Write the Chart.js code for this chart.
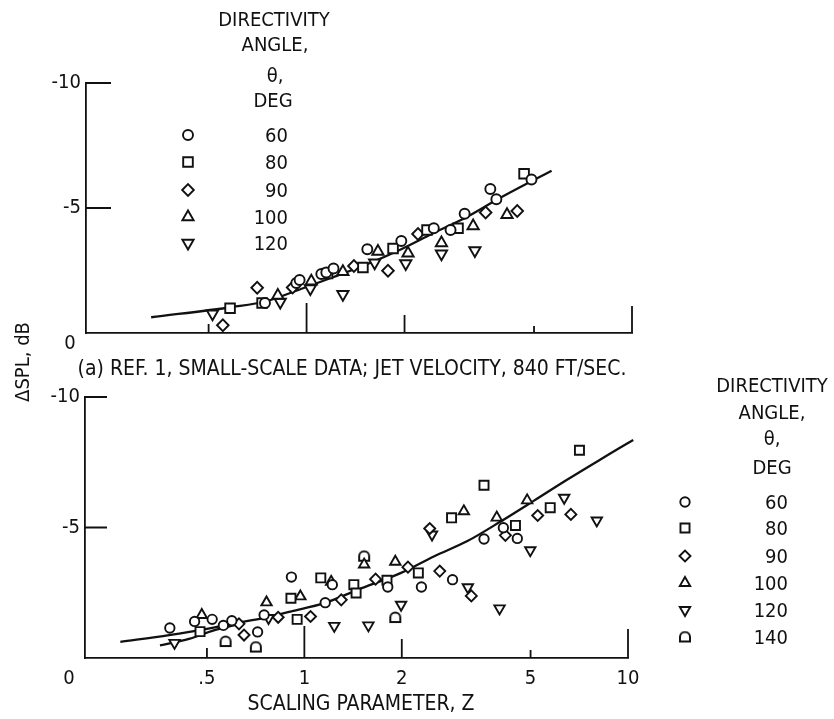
<!DOCTYPE html>
<html>
<head>
<meta charset="utf-8">
<script src="https://cdn.jsdelivr.net/npm/chart.js@4.4.1/dist/chart.umd.min.js"></script>
<style>
  body { margin: 0; background: #fff; }
  #page { position: relative; width: 834px; height: 719px; overflow: hidden;
          font-family: "DejaVu Sans Condensed", "Liberation Sans Narrow", sans-serif; color: #111; }
  canvas { position: absolute; left: 0; }
  .t { position: absolute; white-space: nowrap; line-height: 1; font-size: 20px; transform: translate(-50%, -50%); }
  .r { transform: translate(-100%, -50%); }
  .big { font-size: 21px; }
</style>
</head>
<body>
<div id="page">
  <canvas id="topChart" width="834" height="350" style="top:0"></canvas>
  <canvas id="bottomChart" width="834" height="369" style="top:350px"></canvas>

  <!-- key, panel (a) -->
  <div class="t" style="left:274px; top:19px">DIRECTIVITY</div>
  <div class="t" style="left:275px; top:44px">ANGLE,</div>
  <div class="t" style="left:275px; top:75px">θ,</div>
  <div class="t" style="left:273px; top:100px">DEG</div>
  <div class="t r" style="left:288px; top:135px">60</div>
  <div class="t r" style="left:288px; top:162px">80</div>
  <div class="t r" style="left:288px; top:190px">90</div>
  <div class="t r" style="left:288px; top:217px">100</div>
  <div class="t r" style="left:288px; top:243px">120</div>

  <!-- key, lower panel -->
  <div class="t" style="left:772px; top:385px">DIRECTIVITY</div>
  <div class="t" style="left:772px; top:412px">ANGLE,</div>
  <div class="t" style="left:772px; top:438px">θ,</div>
  <div class="t" style="left:772px; top:467px">DEG</div>
  <div class="t r" style="left:788px; top:502px">60</div>
  <div class="t r" style="left:788px; top:528px">80</div>
  <div class="t r" style="left:788px; top:556px">90</div>
  <div class="t r" style="left:788px; top:583px">100</div>
  <div class="t r" style="left:788px; top:610px">120</div>
  <div class="t r" style="left:788px; top:637px">140</div>

  <div class="t big" style="left:352px; top:368px">(a) REF. 1, SMALL-SCALE DATA; JET VELOCITY, 840 FT/SEC.</div>
  <div class="t big" style="left:361px; top:703px">SCALING PARAMETER, Z</div>
  <div class="t" style="left:22px; top:362px; transform:translate(-50%,-50%) rotate(-90deg)">ΔSPL, dB</div>
  <div class="t" style="left:70px; top:342px">0</div>
  <div class="t" style="left:69px; top:677px">0</div>
</div>

<script>
// shared axes
const zTicks = [0.5, 1, 2, 5, 10];
const zTickText = ['.5', '1', '2', '5', '10'];
const dbTicks = [-10, -5];
const dbTickText = ['-10', '-5'];

// (a) Ref. 1, small-scale data: [Z, delta SPL dB]
const top60 = [[0.745, -1.20], [0.93, -2.00], [0.952, -2.12], [1.11, -2.36], [1.15, -2.42], [1.21, -2.58],
  [1.537, -3.35], [1.955, -3.68], [2.46, -4.19], [2.77, -4.12], [3.06, -4.77], [3.67, -5.76], [3.83, -5.35], [4.91, -6.14]];
const top80 = [[0.582, -0.99], [0.73, -1.20], [1.16, -2.38], [1.49, -2.62], [1.844, -3.38], [2.345, -4.12], [2.92, -4.19], [4.66, -6.37]];
const top90 = [[0.553, -0.31], [0.705, -1.81], [0.906, -1.82], [1.398, -2.68], [1.779, -2.49], [2.20, -3.96], [3.55, -4.82], [4.44, -4.88]];
const top100 = [[0.816, -1.50], [1.034, -2.07], [1.293, -2.45], [1.657, -3.26], [2.05, -3.19], [2.597, -3.60], [3.25, -4.28], [4.13, -4.73]];
const top120 = [[0.514, -0.77], [0.83, -1.24], [1.027, -1.78], [1.293, -1.55], [1.619, -2.81], [2.017, -2.78], [2.597, -3.17], [3.29, -3.30]];
const topFit = [[0.333, -0.63], [0.593, -1.04], [0.752, -1.27], [0.952, -1.74], [1.205, -2.23], [1.527, -2.74],
  [1.932, -3.32], [2.447, -3.99], [3.097, -4.63], [3.925, -5.40], [4.97, -6.11], [5.661, -6.49]];

// lower panel
const bot60 = [[0.384, -1.15], [0.458, -1.40], [0.519, -1.48], [0.562, -1.25], [0.597, -1.43], [0.717, -1.00], [0.751, -1.65],
  [0.912, -3.10], [1.16, -2.12], [1.22, -2.81], [1.81, -2.72], [2.30, -2.72], [2.87, -3.00], [3.59, -4.56], [4.12, -4.99], [4.55, -4.58]];
const bot80 = [[0.476, -1.01], [0.909, -2.29], [0.95, -1.48], [1.124, -3.07], [1.422, -2.81], [1.445, -2.49], [1.80, -2.98],
  [2.25, -3.26], [2.85, -5.37], [3.59, -6.62], [4.49, -5.08], [5.75, -5.76], [7.08, -7.96]];
const bot90 = [[0.628, -1.31], [0.651, -0.88], [0.83, -1.56], [1.045, -1.59], [1.30, -2.23], [1.66, -3.02], [2.09, -3.48],
  [2.44, -4.96], [2.62, -3.33], [3.28, -2.38], [4.18, -4.70], [5.26, -5.46], [6.66, -5.50]];
const bot100 = [[0.482, -1.65], [0.764, -2.13], [0.972, -2.36], [1.21, -2.92], [1.53, -3.58], [1.91, -3.69], [3.11, -5.62], [3.93, -5.38], [4.88, -6.04]];
const bot120 = [[0.397, -0.58], [0.775, -1.53], [1.237, -1.23], [1.577, -1.25], [1.99, -2.04], [2.48, -4.73], [3.20, -2.71],
  [4.01, -1.90], [4.99, -4.13], [6.35, -6.14], [8.01, -5.27]];
const bot140 = [[0.571, -0.63], [0.708, -0.42], [1.53, -3.90], [1.91, -1.55]];
const botFit = [[0.27, -0.62], [0.382, -0.88], [0.482, -1.08], [0.609, -1.33], [0.753, -1.54], [0.912, -1.79], [1.152, -2.10],
  [1.466, -2.62], [1.99, -3.26], [2.52, -3.90], [3.19, -4.48], [4.04, -5.23], [5.11, -6.02], [6.48, -6.83], [8.20, -7.60], [10.38, -8.35], [11.55, -8.67]];
const botFitLow = [[0.358, -0.48], [0.44, -0.73], [0.525, -1.06], [0.64, -1.33]];

const ink = '#111';
const fontFamily = '"DejaVu Sans Condensed", "Liberation Sans Narrow", sans-serif';
Chart.defaults.font.family = fontFamily;
Chart.defaults.color = ink;

// open "arch" symbol for 140 deg
function archSymbol() {
    const c = document.createElement('canvas');
    c.width = 14; c.height = 13;
    const g = c.getContext('2d');
    g.lineWidth = 2;
    g.strokeStyle = ink;
    g.fillStyle = '#fff';
    g.beginPath();
    g.moveTo(2, 11);
    g.lineTo(2, 6.5);
    g.arc(7, 6.5, 5, Math.PI, 0);
    g.lineTo(12, 11);
    g.closePath();
    g.fill();
    g.stroke();
    return c;
}

function markers(pairs, style, r, rot) {
    return {
        data: pairs.map(([x, y]) => ({ x, y })),
        pointStyle: style,
        pointRadius: r,
        pointRotation: rot || 0,
        pointBorderWidth: 1.9,
        pointBorderColor: ink,
        pointBackgroundColor: '#fff',
        showLine: false,
        order: 0,
        key: true
    };
}

function curve(pairs) {
    return {
        data: pairs.map(([x, y]) => ({ x, y })),
        showLine: true,
        borderColor: ink,
        borderWidth: 2.3,
        pointRadius: 0,
        cubicInterpolationMode: 'monotone',
        clip: false,
        order: 5
    };
}

// ticks pointing into the plot, plus the key symbols
const panelMarks = {
    id: 'panelMarks',
    afterDraw(chart, args, opts) {
        const { ctx, chartArea, scales } = chart;
        ctx.save();
        ctx.strokeStyle = ink;
        ctx.lineWidth = 1.8;
        ctx.beginPath();
        opts.xTicks.forEach(([v, len]) => {
            const px = scales.x.getPixelForValue(v);
            ctx.moveTo(px, chartArea.bottom);
            ctx.lineTo(px, chartArea.bottom - len);
        });
        opts.yTicks.forEach(([v, len]) => {
            const py = scales.y.getPixelForValue(v);
            ctx.moveTo(chartArea.left, py);
            ctx.lineTo(chartArea.left + len, py);
        });
        ctx.stroke();

        let row = 0;
        chart.data.datasets.forEach(ds => {
            if (!ds.key) return;
            ctx.fillStyle = '#fff';
            ctx.strokeStyle = ink;
            ctx.lineWidth = ds.pointBorderWidth;
            Chart.helpers.drawPoint(ctx, {
                pointStyle: ds.pointStyle,
                radius: ds.pointRadius,
                rotation: ds.pointRotation,
                borderWidth: ds.pointBorderWidth
            }, opts.keyX, opts.keyRows[row]);
            row++;
        });
        ctx.restore();
    }
};

function panel(id, datasets, pad, showZ, marks) {
    return new Chart(document.getElementById(id), {
        type: 'scatter',
        data: { datasets },
        options: {
            responsive: false,
            animation: false,
            events: [],
            layout: { padding: pad },
            plugins: {
                legend: { display: false },
                tooltip: { enabled: false },
                panelMarks: marks
            },
            scales: {
                x: {
                    type: 'logarithmic',
                    min: 0.21,
                    max: 10,
                    grid: { display: false, drawTicks: false },
                    border: { color: ink, width: 1.8 },
                    ticks: {
                        display: showZ,
                        autoSkip: false,
                        maxRotation: 0,
                        padding: 9,
                        color: ink,
                        font: { size: 20 },
                        callback: (v, i) => zTickText[i]
                    },
                    afterBuildTicks: s => { s.ticks = zTicks.map(v => ({ value: v })); },
                    afterFit: s => { s.height = showZ ? 40 : 0; }
                },
                y: {
                    type: 'linear',
                    min: -10,
                    max: 0,
                    reverse: true,
                    grid: { display: false, drawTicks: false },
                    border: { color: ink, width: 1.8 },
                    ticks: {
                        autoSkip: false,
                        padding: 5,
                        color: ink,
                        font: { size: 20 },
                        callback: (v, i) => dbTickText[i]
                    },
                    afterBuildTicks: s => { s.ticks = dbTicks.map(v => ({ value: v })); },
                    afterFit: s => { s.width = 60; }
                }
            }
        },
        plugins: [panelMarks]
    });
}

const arch = archSymbol();

panel('topChart', [
    markers(top60, 'circle', 5),
    markers(top80, 'rect', 6.8),
    markers(top90, 'rectRot', 5.8),
    markers(top100, 'triangle', 6.5),
    markers(top120, 'triangle', 6.5, 180),
    curve(topFit)
], { left: 26, right: 202, top: 83, bottom: 7 }, false, {
    xTicks: [[0.5, 9], [1, 30], [2, 18], [5, 7], [10, 27]],
    yTicks: [[-10, 25], [-5, 25]],
    keyX: 188,
    keyRows: [135, 162, 190, 217, 243]
});

panel('bottomChart', [
    markers(bot60, 'circle', 4.7),
    markers(bot80, 'rect', 6.4),
    markers(bot90, 'rectRot', 5.5),
    markers(bot100, 'triangle', 6),
    markers(bot120, 'triangle', 6, 180),
    markers(bot140, arch, 6),
    curve(botFit),
    curve(botFitLow)
], { left: 25, right: 206, top: 47, bottom: 21 }, true, {
    xTicks: [[0.5, 10], [1, 32], [2, 19], [5, 8], [10, 29]],
    yTicks: [[-10, 22], [-5, 22]],
    keyX: 685,
    keyRows: [152, 178, 206, 233, 260, 287]
});
</script>
</body>
</html>
